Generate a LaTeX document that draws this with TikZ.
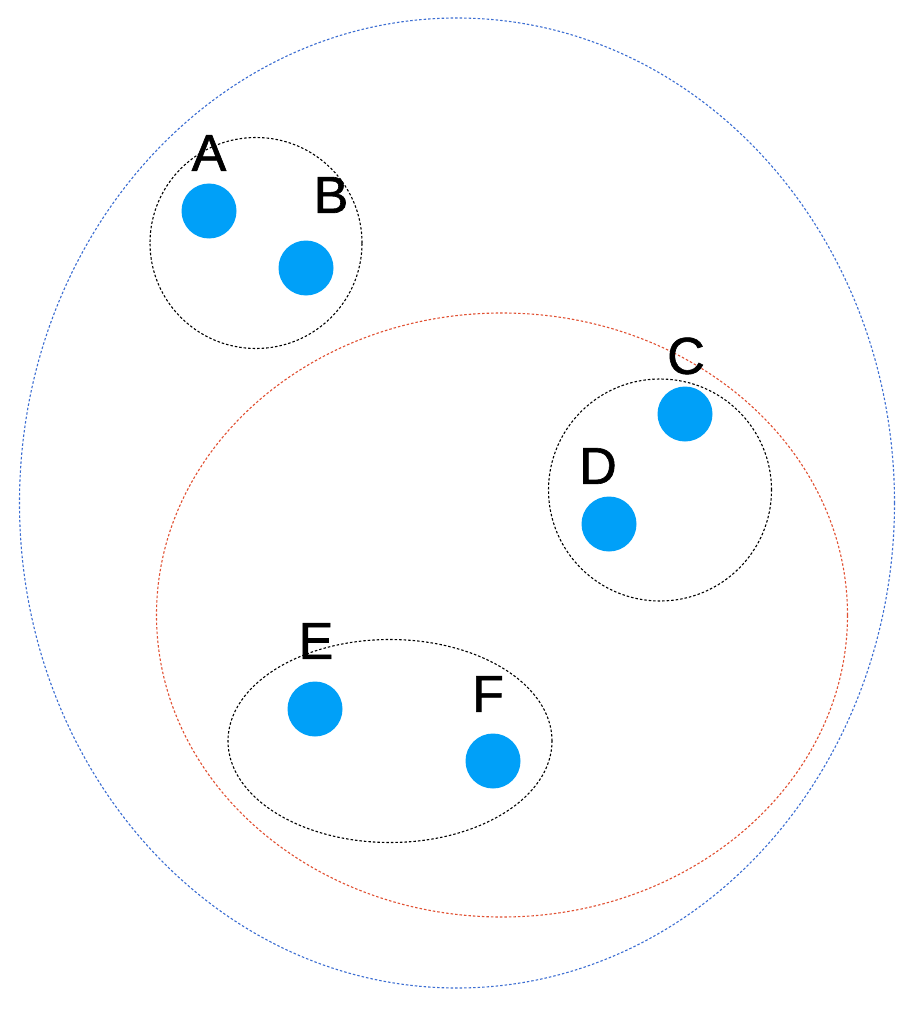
\documentclass[tikz,border=0pt]{standalone}
\usepackage{fontspec}
\setmainfont{Liberation Sans}
\newfontfamily\lblfont[FakeBold=1.2]{Liberation Sans}
\usetikzlibrary{shapes.geometric}
\definecolor{dotblue}{RGB}{0,160,248}
\definecolor{outerblue}{RGB}{60,110,210}
\definecolor{innerred}{RGB}{225,80,50}
\tikzset{
  dotline/.style={line width=1.1pt, dash pattern=on 2.5pt off 2pt},
  grp/.style={draw, dotline, ellipse, inner sep=0pt},
  pt/.style={circle, fill=dotblue, minimum size=55pt, inner sep=0pt},
  lbl/.style={font=\lblfont\fontsize{52}{52}\selectfont, text=black, inner sep=0pt},
}
\begin{document}
\begin{tikzpicture}[x=1pt,y=-1pt]
\useasboundingbox (0,0) rectangle (917,1024);
\fill[white] (0,0) rectangle (917,1024);
\node[grp, draw=outerblue, minimum width=875pt, minimum height=970pt] (outer) at (457,503) {};
\node[grp, draw=innerred, minimum width=691pt, minimum height=604pt] (inner) at (502,615) {};
\node[grp, draw=black, minimum width=212pt, minimum height=211pt] (gab) at (256,243) {};
\node[grp, draw=black, minimum width=223pt, minimum height=222pt] (gcd) at (660,490) {};
\node[grp, draw=black, minimum width=324pt, minimum height=203pt] (gef) at (390,741) {};
\node[pt] (a) at (209,211) {};
\node[pt] (b) at (306,268) {};
\node[pt] (c) at (685,414) {};
\node[pt] (d) at (609,524) {};
\node[pt] (e) at (315,709) {};
\node[pt] (f) at (493,761) {};
\node[lbl] (la) at (209,153) {A};
\node[lbl] (lb) at (331,195) {B};
\node[lbl] (lc) at (686,356) {C};
\node[lbl] (ld) at (598,466) {D};
\node[lbl] (le) at (316,641) {E};
\node[lbl] (lf) at (488,694) {F};
\end{tikzpicture}
\end{document}
